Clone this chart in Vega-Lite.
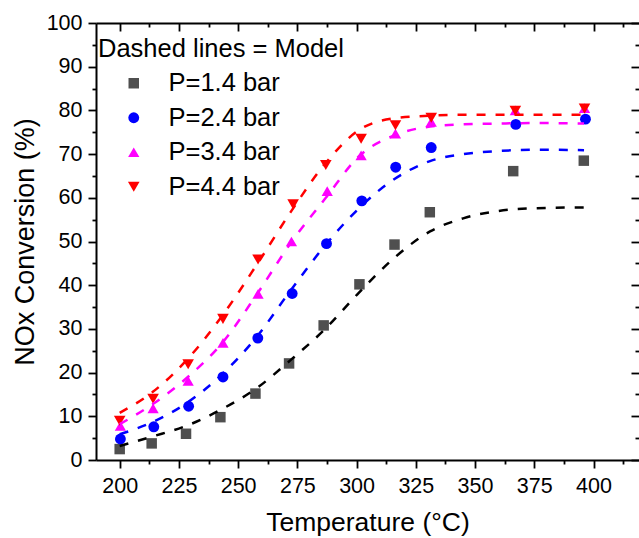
{
  "$schema": "https://vega.github.io/schema/vega-lite/v6.json",
  "width": 543,
  "height": 437,
  "autosize": {"type": "none"},
  "padding": {"left": 96, "top": 23, "right": 0, "bottom": 78},
  "background": "white",
  "config": {
    "view": {"stroke": null},
    "axis": {
      "grid": false,
      "domainColor": "black",
      "tickColor": "black",
      "labelColor": "black",
      "titleColor": "black",
      "labelFont": "Liberation Sans",
      "titleFont": "Liberation Sans",
      "titleFontWeight": "normal",
      "domainWidth": 2,
      "tickWidth": 1.8,
      "labelFlush": false,
      "labelOverlap": false
    }
  },
  "datasets": {
    "meas": [
      {"series": "P=1.4 bar", "T": 200.0, "C": 2.5},
      {"series": "P=1.4 bar", "T": 213.5, "C": 3.8},
      {"series": "P=1.4 bar", "T": 228.0, "C": 6.0},
      {"series": "P=1.4 bar", "T": 242.5, "C": 9.8},
      {"series": "P=1.4 bar", "T": 257.3, "C": 15.2},
      {"series": "P=1.4 bar", "T": 271.5, "C": 22.1},
      {"series": "P=1.4 bar", "T": 286.1, "C": 30.8},
      {"series": "P=1.4 bar", "T": 301.2, "C": 40.2},
      {"series": "P=1.4 bar", "T": 316.0, "C": 49.3},
      {"series": "P=1.4 bar", "T": 330.9, "C": 56.7},
      {"series": "P=1.4 bar", "T": 366.1, "C": 66.1},
      {"series": "P=1.4 bar", "T": 395.9, "C": 68.5},
      {"series": "P=2.4 bar", "T": 200.3, "C": 4.8},
      {"series": "P=2.4 bar", "T": 214.4, "C": 7.6},
      {"series": "P=2.4 bar", "T": 229.1, "C": 12.3},
      {"series": "P=2.4 bar", "T": 243.6, "C": 19.0},
      {"series": "P=2.4 bar", "T": 258.3, "C": 27.9},
      {"series": "P=2.4 bar", "T": 272.8, "C": 38.1},
      {"series": "P=2.4 bar", "T": 287.3, "C": 49.5},
      {"series": "P=2.4 bar", "T": 302.2, "C": 59.3},
      {"series": "P=2.4 bar", "T": 316.5, "C": 67.0},
      {"series": "P=2.4 bar", "T": 331.5, "C": 71.5},
      {"series": "P=2.4 bar", "T": 367.2, "C": 76.8},
      {"series": "P=2.4 bar", "T": 396.6, "C": 78.0},
      {"series": "P=3.4 bar", "T": 200.3, "C": 7.8},
      {"series": "P=3.4 bar", "T": 214.1, "C": 11.8},
      {"series": "P=3.4 bar", "T": 228.9, "C": 18.1},
      {"series": "P=3.4 bar", "T": 243.6, "C": 26.8},
      {"series": "P=3.4 bar", "T": 258.4, "C": 38.0},
      {"series": "P=3.4 bar", "T": 272.5, "C": 50.0},
      {"series": "P=3.4 bar", "T": 287.6, "C": 61.5},
      {"series": "P=3.4 bar", "T": 301.9, "C": 69.7},
      {"series": "P=3.4 bar", "T": 316.4, "C": 74.7},
      {"series": "P=3.4 bar", "T": 331.5, "C": 77.4},
      {"series": "P=3.4 bar", "T": 367.0, "C": 80.0},
      {"series": "P=3.4 bar", "T": 396.2, "C": 80.5},
      {"series": "P=4.4 bar", "T": 200.0, "C": 9.0},
      {"series": "P=4.4 bar", "T": 214.1, "C": 14.0},
      {"series": "P=4.4 bar", "T": 228.9, "C": 21.9},
      {"series": "P=4.4 bar", "T": 243.6, "C": 32.3},
      {"series": "P=4.4 bar", "T": 258.4, "C": 45.9},
      {"series": "P=4.4 bar", "T": 273.2, "C": 58.5},
      {"series": "P=4.4 bar", "T": 287.0, "C": 67.5},
      {"series": "P=4.4 bar", "T": 301.9, "C": 73.5},
      {"series": "P=4.4 bar", "T": 316.4, "C": 76.6},
      {"series": "P=4.4 bar", "T": 331.5, "C": 78.3},
      {"series": "P=4.4 bar", "T": 367.0, "C": 79.9},
      {"series": "P=4.4 bar", "T": 396.2, "C": 80.4}
    ],
    "model": [
      {"series": "P=1.4 bar", "T": 200, "C": 3.2},
      {"series": "P=1.4 bar", "T": 214, "C": 5.4},
      {"series": "P=1.4 bar", "T": 229, "C": 8.0},
      {"series": "P=1.4 bar", "T": 243, "C": 11.6},
      {"series": "P=1.4 bar", "T": 258, "C": 16.5},
      {"series": "P=1.4 bar", "T": 272, "C": 22.8},
      {"series": "P=1.4 bar", "T": 286, "C": 29.6},
      {"series": "P=1.4 bar", "T": 301, "C": 38.3},
      {"series": "P=1.4 bar", "T": 316, "C": 46.3},
      {"series": "P=1.4 bar", "T": 331, "C": 52.3},
      {"series": "P=1.4 bar", "T": 345, "C": 55.3},
      {"series": "P=1.4 bar", "T": 360, "C": 57.0},
      {"series": "P=1.4 bar", "T": 375, "C": 57.6},
      {"series": "P=1.4 bar", "T": 396, "C": 57.8},
      {"series": "P=2.4 bar", "T": 200, "C": 5.9},
      {"series": "P=2.4 bar", "T": 214, "C": 8.7},
      {"series": "P=2.4 bar", "T": 229, "C": 13.3},
      {"series": "P=2.4 bar", "T": 243, "C": 19.5},
      {"series": "P=2.4 bar", "T": 258, "C": 28.3},
      {"series": "P=2.4 bar", "T": 272, "C": 38.7},
      {"series": "P=2.4 bar", "T": 287, "C": 49.3},
      {"series": "P=2.4 bar", "T": 301, "C": 57.6},
      {"series": "P=2.4 bar", "T": 316, "C": 64.3},
      {"series": "P=2.4 bar", "T": 331, "C": 68.4},
      {"series": "P=2.4 bar", "T": 345, "C": 70.0},
      {"series": "P=2.4 bar", "T": 360, "C": 70.7},
      {"series": "P=2.4 bar", "T": 375, "C": 71.0},
      {"series": "P=2.4 bar", "T": 396, "C": 70.9},
      {"series": "P=3.4 bar", "T": 200, "C": 8.2},
      {"series": "P=3.4 bar", "T": 214, "C": 12.8},
      {"series": "P=3.4 bar", "T": 229, "C": 19.1},
      {"series": "P=3.4 bar", "T": 243, "C": 26.6},
      {"series": "P=3.4 bar", "T": 258, "C": 38.0},
      {"series": "P=3.4 bar", "T": 272, "C": 49.5},
      {"series": "P=3.4 bar", "T": 287, "C": 60.0},
      {"series": "P=3.4 bar", "T": 301, "C": 69.5},
      {"series": "P=3.4 bar", "T": 316, "C": 74.3},
      {"series": "P=3.4 bar", "T": 331, "C": 76.3},
      {"series": "P=3.4 bar", "T": 345, "C": 76.8},
      {"series": "P=3.4 bar", "T": 360, "C": 77.0},
      {"series": "P=3.4 bar", "T": 375, "C": 77.1},
      {"series": "P=3.4 bar", "T": 396, "C": 77.0},
      {"series": "P=4.4 bar", "T": 200, "C": 10.8},
      {"series": "P=4.4 bar", "T": 214, "C": 15.6},
      {"series": "P=4.4 bar", "T": 229, "C": 23.3},
      {"series": "P=4.4 bar", "T": 243, "C": 32.8},
      {"series": "P=4.4 bar", "T": 258, "C": 44.8},
      {"series": "P=4.4 bar", "T": 272, "C": 56.6},
      {"series": "P=4.4 bar", "T": 287, "C": 68.0},
      {"series": "P=4.4 bar", "T": 301, "C": 75.5},
      {"series": "P=4.4 bar", "T": 316, "C": 78.2},
      {"series": "P=4.4 bar", "T": 331, "C": 78.8},
      {"series": "P=4.4 bar", "T": 345, "C": 79.0},
      {"series": "P=4.4 bar", "T": 360, "C": 79.0},
      {"series": "P=4.4 bar", "T": 375, "C": 79.0},
      {"series": "P=4.4 bar", "T": 396, "C": 79.0}
    ]
  },
  "layer": [
    {
      "data": {"name": "meas"},
      "mark": {"type": "point", "filled": true, "opacity": 1, "strokeWidth": 0},
      "encoding": {
        "x": {
          "field": "T", "type": "quantitative",
          "scale": {"domain": [190, 419.2], "nice": false, "zero": false},
          "axis": {
            "orient": "bottom",
            "values": [200, 225, 250, 275, 300, 325, 350, 375, 400],
            "title": "Temperature (°C)",
            "titleFontSize": 26.5,
            "titleX": 271.5,
            "titleY": 70.5,
            "titleAlign": "center",
            "titleBaseline": "alphabetic",
            "labelFontSize": 21.5,
            "labelPadding": 7.5,
            "tickSize": 8
          }
        },
        "y": {
          "field": "C", "type": "quantitative",
          "scale": {"domain": [0, 100], "nice": false, "zero": false},
          "axis": {
            "orient": "left",
            "values": [0, 10, 20, 30, 40, 50, 60, 70, 80, 90, 100],
            "title": "NOx Conversion (%)",
            "titleFontSize": 27,
            "titleX": -63,
            "titleY": 218.5,
            "titleAngle": -90,
            "titleAlign": "center",
            "titleBaseline": "alphabetic",
            "labelFontSize": 21.5,
            "labelPadding": 6,
            "tickSize": 8
          }
        },
        "color": {
          "field": "series", "type": "nominal",
          "scale": {
            "domain": ["P=1.4 bar", "P=2.4 bar", "P=3.4 bar", "P=4.4 bar"],
            "range": ["#4f4f4f", "#0000ff", "#ff00ff", "#ff0000"]
          },
          "legend": {
            "title": "Dashed lines = Model",
            "orient": "none",
            "legendX": 2,
            "legendY": 14,
            "padding": 0,
            "titleFont": "Liberation Sans",
            "titleFontSize": 25.5,
            "titleFontWeight": "normal",
            "titleColor": "black",
            "titlePadding": 8,
            "titleLimit": 400,
            "labelFont": "Liberation Sans",
            "labelFontSize": 25.5,
            "labelColor": "black",
            "labelLimit": 300,
            "labelOffset": 22,
            "symbolOffset": 23,
            "rowPadding": 7.5,
            "symbolStrokeWidth": 0
          }
        },
        "shape": {
          "field": "series", "type": "nominal",
          "scale": {
            "domain": ["P=1.4 bar", "P=2.4 bar", "P=3.4 bar", "P=4.4 bar"],
            "range": ["square", "circle", "triangle-up", "triangle-down"]
          },
          "legend": {"title": "Dashed lines = Model"}
        },
        "size": {
          "field": "series", "type": "nominal",
          "scale": {
            "domain": ["P=1.4 bar", "P=2.4 bar", "P=3.4 bar", "P=4.4 bar"],
            "range": [110, 135, 210, 210]
          },
          "legend": {"title": "Dashed lines = Model"}
        }
      }
    },
    {
      "data": {"name": "model"},
      "mark": {"type": "line", "strokeDash": [9, 10], "strokeWidth": 2.5, "interpolate": "monotone"},
      "encoding": {
        "x": {
          "field": "T", "type": "quantitative",
          "axis": {
            "orient": "bottom",
            "values": [212.5, 237.5, 262.5, 287.5, 312.5, 337.5, 362.5, 387.5, 412.5],
            "labels": false, "domain": false, "title": null, "tickSize": 4
          }
        },
        "y": {
          "field": "C", "type": "quantitative",
          "axis": {
            "orient": "left",
            "values": [5, 15, 25, 35, 45, 55, 65, 75, 85, 95],
            "labels": false, "domain": false, "title": null, "tickSize": 4
          }
        },
        "stroke": {
          "field": "series", "type": "nominal",
          "scale": {
            "domain": ["P=1.4 bar", "P=2.4 bar", "P=3.4 bar", "P=4.4 bar"],
            "range": ["#000000", "#0000ff", "#ff00ff", "#ff0000"]
          },
          "legend": null
        },
        "detail": {"field": "series"}
      }
    },
    {
      "data": {"name": "meas"},
      "mark": {"type": "point", "opacity": 0},
      "encoding": {
        "x": {
          "field": "T", "type": "quantitative",
          "axis": {
            "orient": "top",
            "values": [200, 225, 250, 275, 300, 325, 350, 375, 400],
            "labels": false, "domain": true, "title": null, "tickSize": -8
          }
        },
        "y": {
          "field": "C", "type": "quantitative",
          "axis": {
            "orient": "right",
            "values": [0, 10, 20, 30, 40, 50, 60, 70, 80, 90, 100],
            "labels": false, "domain": false, "title": null, "tickSize": -8
          }
        }
      }
    },
    {
      "data": {"name": "meas"},
      "mark": {"type": "point", "opacity": 0},
      "encoding": {
        "x": {
          "field": "T", "type": "quantitative",
          "axis": {
            "orient": "top",
            "values": [212.5, 237.5, 262.5, 287.5, 312.5, 337.5, 362.5, 387.5, 412.5],
            "labels": false, "domain": false, "title": null, "tickSize": -4
          }
        },
        "y": {
          "field": "C", "type": "quantitative",
          "axis": {
            "orient": "right",
            "values": [5, 15, 25, 35, 45, 55, 65, 75, 85, 95],
            "labels": false, "domain": false, "title": null, "tickSize": -4
          }
        }
      }
    }
  ],
  "resolve": {"axis": {"x": "independent", "y": "independent"}}
}
